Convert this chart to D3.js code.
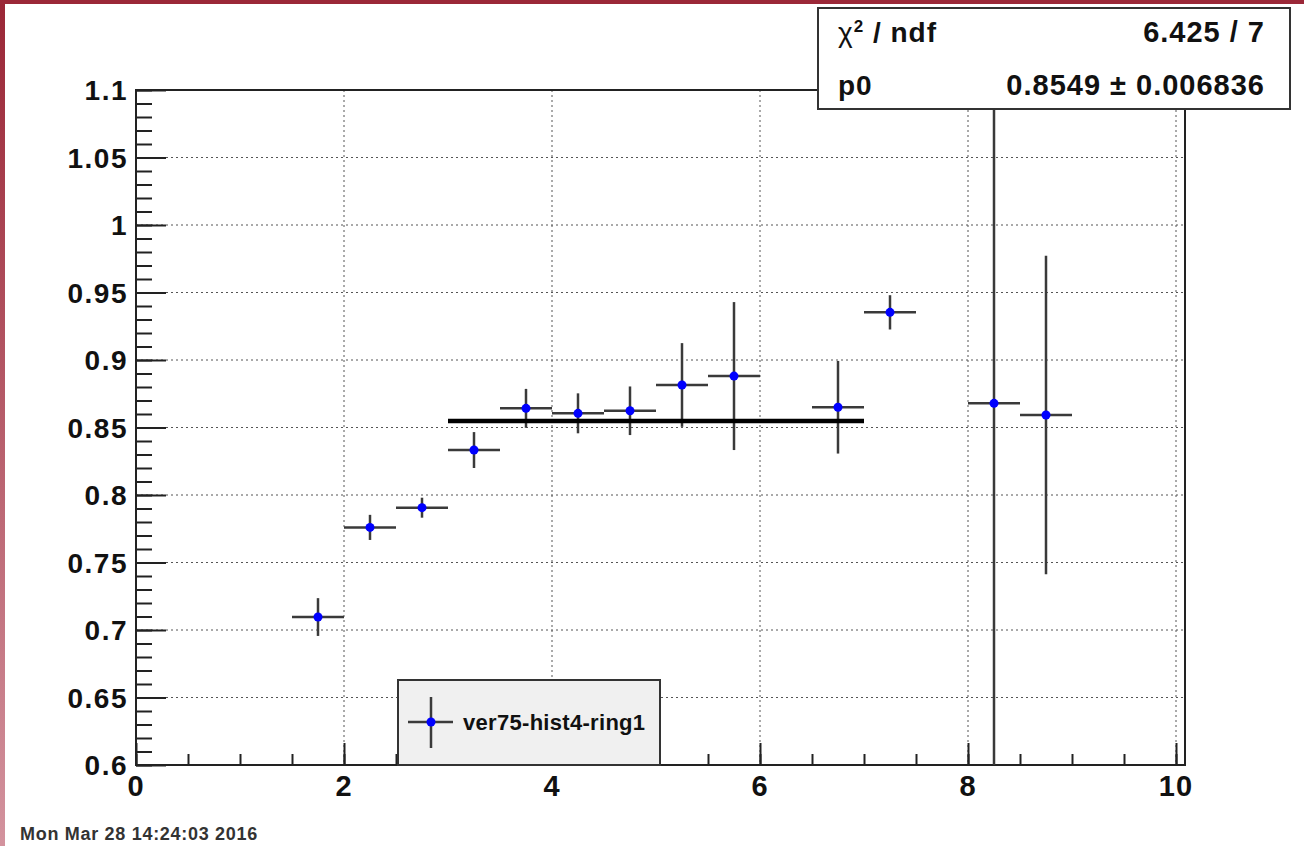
<!DOCTYPE html>
<html>
<head>
<meta charset="utf-8">
<script src="https://cdn.jsdelivr.net/npm/d3@7"></script>
<style>
    body { margin: 0; background: #fff; }
    #ratio-chart { width: 1304px; height: 846px; }
    text { font-family: "Liberation Sans", Arial, Helvetica, sans-serif; font-weight: bold; fill: #111; }
</style>
</head>
<body>
<div id="ratio-chart"></div>
<script>
// bin centres and fitted ratio values
var binCenters = [1.75, 2.25, 2.75, 3.25, 3.75, 4.25, 4.75, 5.25, 5.75, 6.75, 7.25, 8.25, 8.75];
var ratioValues = [0.7096, 0.776, 0.7906, 0.8333, 0.8642, 0.8605, 0.8624, 0.8815, 0.8881, 0.865, 0.9353, 0.8679, 0.8593];
var ratioErrors = [0.014, 0.0093, 0.0074, 0.0133, 0.0144, 0.0148, 0.018, 0.031, 0.0548, 0.0343, 0.0127, 0.5, 0.118];
var binHalfWidth = 0.25;

var fitRange = [3, 7];
var fitValue = 0.8549;

var xTickValues = [0, 2, 4, 6, 8, 10];
var xTickLabels = ["0", "2", "4", "6", "8", "10"];
var yTickValues = [0.6, 0.65, 0.7, 0.75, 0.8, 0.85, 0.9, 0.95, 1, 1.05, 1.1];
var yTickLabels = ["0.6", "0.65", "0.7", "0.75", "0.8", "0.85", "0.9", "0.95", "1", "1.05", "1.1"];

var statsRows = [["χ", "6.425 / 7"], ["p0", "0.8549 ± 0.006836"]];
var legendLabel = "ver75-hist4-ring1";
var dateLabel = "Mon Mar 28 14:24:03 2016";

function RatioChart() {
    var self = this;
    self.init();
}

RatioChart.prototype.init = function () {
    var self = this;
    self.frame = {left: 136, right: 1185, top: 90, bottom: 765};

    self.svg = d3.select("#ratio-chart").append("svg")
        .attr("width", 1304)
        .attr("height", 846);

    self.xScale = d3.scaleLinear().domain([0, 10]).range([136, 1176]);
    self.yScale = d3.scaleLinear().domain([0.6, 1.1]).range([self.frame.bottom, self.frame.top]);

    self.drawBorder();
    self.drawGrid();
    self.drawAxes();
    self.drawPoints();
    self.drawLegend();
    self.drawStats();

    self.svg.append("text")
        .attr("x", 20)
        .attr("y", 840)
        .style("font-size", "18px")
        .style("letter-spacing", "0.7px")
        .style("fill", "#333")
        .text(dateLabel);
};

// the reddish slide border along the top and left side
RatioChart.prototype.drawBorder = function () {
    var self = this;
    var grad = self.svg.append("defs").append("linearGradient")
        .attr("id", "leftBand")
        .attr("x1", 0).attr("y1", 0).attr("x2", 0).attr("y2", 1);
    grad.append("stop").attr("offset", "0%").attr("stop-color", "#9a2636");
    grad.append("stop").attr("offset", "100%").attr("stop-color", "#d3939e");

    self.svg.append("rect")
        .attr("x", 0).attr("y", 0).attr("width", 5).attr("height", 846)
        .attr("fill", "url(#leftBand)");
    self.svg.append("rect")
        .attr("x", 0).attr("y", 0).attr("width", 1304).attr("height", 4)
        .attr("fill", "#9b2838");
};

RatioChart.prototype.drawGrid = function () {
    var self = this;
    var g = self.svg.append("g").attr("id", "grid")
        .attr("stroke", "#555")
        .attr("stroke-width", 1)
        .attr("stroke-dasharray", "2,3");

    g.selectAll("line.vgrid")
        .data(xTickValues.slice(1))
        .enter().append("line")
        .attr("x1", function (d) { return self.xScale(d); })
        .attr("x2", function (d) { return self.xScale(d); })
        .attr("y1", self.frame.top)
        .attr("y2", self.frame.bottom);

    g.selectAll("line.hgrid")
        .data(yTickValues.slice(1, -1))
        .enter().append("line")
        .attr("x1", self.frame.left)
        .attr("x2", self.frame.right)
        .attr("y1", function (d) { return self.yScale(d); })
        .attr("y2", function (d) { return self.yScale(d); });
};

RatioChart.prototype.drawAxes = function () {
    var self = this;

    // frame around the plot area
    self.svg.append("rect")
        .attr("x", self.frame.left)
        .attr("y", self.frame.top)
        .attr("width", self.frame.right - self.frame.left)
        .attr("height", self.frame.bottom - self.frame.top)
        .attr("fill", "none")
        .attr("stroke", "#222")
        .attr("stroke-width", 2);

    // x axis: ticks point up into the frame (minor and major in separate groups)
    var xMinor = self.svg.append("g").attr("class", "xMinor")
        .attr("transform", "translate(0," + self.frame.bottom + ")")
        .call(d3.axisTop(self.xScale)
            .tickValues(d3.range(0, 21).map(function (i) { return i * 0.5; }))
            .tickSize(11)
            .tickFormat(""));
    var xMajor = self.svg.append("g").attr("class", "xMajor")
        .attr("transform", "translate(0," + self.frame.bottom + ")")
        .call(d3.axisTop(self.xScale)
            .tickValues(xTickValues)
            .tickSize(22)
            .tickFormat(""));
    [xMinor, xMajor].forEach(function (ax) {
        ax.selectAll(".domain").remove();
        ax.selectAll("line").attr("stroke", "#222").attr("stroke-width", 2);
    });

    self.svg.append("g").selectAll("text")
        .data(xTickValues)
        .enter().append("text")
        .attr("x", function (d) { return self.xScale(d); })
        .attr("y", 796)
        .attr("text-anchor", "middle")
        .style("font-size", "29px")
        .style("letter-spacing", "1px")
        .text(function (d, i) { return xTickLabels[i]; });

    // y axis: ticks point right into the frame
    var yMinor = self.svg.append("g").attr("class", "yMinor")
        .attr("transform", "translate(" + self.frame.left + ",0)")
        .call(d3.axisRight(self.yScale)
            .tickValues(d3.range(0, 51).map(function (i) { return 0.6 + i * 0.01; }))
            .tickSize(16)
            .tickFormat(""));
    var yMajor = self.svg.append("g").attr("class", "yMajor")
        .attr("transform", "translate(" + self.frame.left + ",0)")
        .call(d3.axisRight(self.yScale)
            .tickValues(yTickValues)
            .tickSize(30)
            .tickFormat(""));
    [yMinor, yMajor].forEach(function (ax) {
        ax.selectAll(".domain").remove();
        ax.selectAll("line").attr("stroke", "#222").attr("stroke-width", 2);
    });

    self.svg.append("g").selectAll("text")
        .data(yTickValues)
        .enter().append("text")
        .attr("x", 128)
        .attr("y", function (d) { return self.yScale(d) + 10; })
        .attr("text-anchor", "end")
        .style("font-size", "28px")
        .style("letter-spacing", "1.5px")
        .text(function (d, i) { return yTickLabels[i]; });
};

RatioChart.prototype.drawPoints = function () {
    var self = this;
    self.svg.append("clipPath").attr("id", "frameClip")
        .append("rect")
        .attr("x", self.frame.left)
        .attr("y", self.frame.top)
        .attr("width", self.frame.right - self.frame.left)
        .attr("height", self.frame.bottom - self.frame.top);

    var points = binCenters.map(function (c, i) {
        return {x: c, y: ratioValues[i], err: ratioErrors[i]};
    });

    var g = self.svg.append("g").attr("id", "points").attr("clip-path", "url(#frameClip)");

    g.selectAll("line.xerr")
        .data(points)
        .enter().append("line")
        .attr("x1", function (d) { return self.xScale(d.x - binHalfWidth); })
        .attr("x2", function (d) { return self.xScale(d.x + binHalfWidth); })
        .attr("y1", function (d) { return self.yScale(d.y); })
        .attr("y2", function (d) { return self.yScale(d.y); })
        .attr("stroke", "#3a3a3a")
        .attr("stroke-width", 2.5);

    g.selectAll("line.yerr")
        .data(points)
        .enter().append("line")
        .attr("x1", function (d) { return self.xScale(d.x); })
        .attr("x2", function (d) { return self.xScale(d.x); })
        .attr("y1", function (d) { return self.yScale(d.y - d.err); })
        .attr("y2", function (d) { return self.yScale(d.y + d.err); })
        .attr("stroke", "#3a3a3a")
        .attr("stroke-width", 2.5);

    // constant fit p0 over [3, 7]
    g.append("line")
        .attr("x1", self.xScale(fitRange[0]))
        .attr("x2", self.xScale(fitRange[1]))
        .attr("y1", self.yScale(fitValue))
        .attr("y2", self.yScale(fitValue))
        .attr("stroke", "#000")
        .attr("stroke-width", 4.5);

    g.selectAll("circle")
        .data(points)
        .enter().append("circle")
        .attr("cx", function (d) { return self.xScale(d.x); })
        .attr("cy", function (d) { return self.yScale(d.y); })
        .attr("r", 4.5)
        .attr("fill", "#0000ff");
};

RatioChart.prototype.drawLegend = function () {
    var self = this;
    var g = self.svg.append("g").attr("id", "legend");
    g.append("rect")
        .attr("x", 398).attr("y", 680)
        .attr("width", 262).attr("height", 85)
        .attr("fill", "#f0f0f0")
        .attr("stroke", "#333")
        .attr("stroke-width", 2);
    g.append("line")
        .attr("x1", 408).attr("x2", 453).attr("y1", 722).attr("y2", 722)
        .attr("stroke", "#3a3a3a").attr("stroke-width", 2.5);
    g.append("line")
        .attr("x1", 431).attr("x2", 431).attr("y1", 697).attr("y2", 748)
        .attr("stroke", "#3a3a3a").attr("stroke-width", 2.5);
    g.append("circle")
        .attr("cx", 431).attr("cy", 722).attr("r", 4.5)
        .attr("fill", "#0000ff");
    g.append("text")
        .attr("x", 463).attr("y", 730)
        .style("font-size", "22px")
        .style("letter-spacing", "0.3px")
        .text(legendLabel);
};

RatioChart.prototype.drawStats = function () {
    var self = this;
    var g = self.svg.append("g").attr("id", "stats");
    g.append("rect")
        .attr("x", 818).attr("y", 8)
        .attr("width", 472).attr("height", 101)
        .attr("fill", "#fff")
        .attr("stroke", "#333")
        .attr("stroke-width", 2);

    var baselines = [42, 95];
    statsRows.forEach(function (row, i) {
        var left = g.append("text")
            .attr("x", 838).attr("y", baselines[i])
            .style("font-size", "28px")
            .style("letter-spacing", "1px");
        if (i === 0) {
            left.append("tspan").style("font-weight", "normal").text(row[0]);
            left.append("tspan").attr("dy", -10).style("font-size", "17px").text("2");
            left.append("tspan").attr("dy", 10).text(" / ndf");
        } else {
            left.text(row[0]);
        }
        g.append("text")
            .attr("x", 1265).attr("y", baselines[i])
            .attr("text-anchor", "end")
            .style("font-size", "29px")
            .style("letter-spacing", "1px")
            .text(row[1]);
    });
};

new RatioChart();
</script>
</body>
</html>
